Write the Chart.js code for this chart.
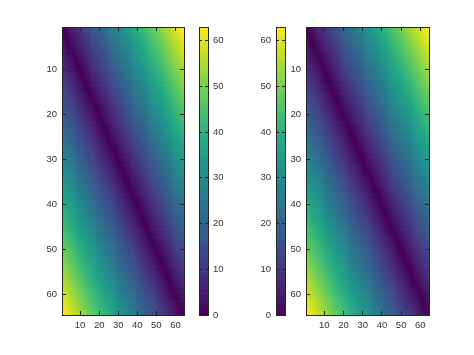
<!DOCTYPE html>
<html>
<head>
<meta charset="utf-8">
<script src="https://cdn.jsdelivr.net/npm/chart.js@4.4.0/dist/chart.umd.min.js"></script>
<style>
html, body { margin: 0; padding: 0; background: #fff; }
#wrap { position: relative; width: 474px; height: 355px; }
#wrap canvas { position: absolute; left: 0; top: 0; }
</style>
</head>
<body>
<div id="wrap">
  <canvas id="heatL" width="474" height="355"></canvas>
  <canvas id="barL" width="474" height="355"></canvas>
  <canvas id="barR" width="474" height="355"></canvas>
  <canvas id="heatR" width="474" height="355"></canvas>
</div>
<script>
// column / row indices of the 64x64 image
var cols = [1,2,3,4,5,6,7,8,9,10,11,12,13,14,15,16,17,18,19,20,21,22,23,24,25,26,27,28,29,30,31,32,33,34,35,36,37,38,39,40,41,42,43,44,45,46,47,48,49,50,51,52,53,54,55,56,57,58,59,60,61,62,63,64];
var rows = [1,2,3,4,5,6,7,8,9,10,11,12,13,14,15,16,17,18,19,20,21,22,23,24,25,26,27,28,29,30,31,32,33,34,35,36,37,38,39,40,41,42,43,44,45,46,47,48,49,50,51,52,53,54,55,56,57,58,59,60,61,62,63,64];

// cell values (same image in both panels)
var dist = [
[0,1,2,3,4,5,6,7,8,9,10,11,12,13,14,15,16,17,18,19,20,21,22,23,24,25,26,27,28,29,30,31,32,33,34,35,36,37,38,39,40,41,42,43,44,45,46,47,48,49,50,51,52,53,54,55,56,57,58,59,60,61,62,63],
[1,0,1,2,3,4,5,6,7,8,9,10,11,12,13,14,15,16,17,18,19,20,21,22,23,24,25,26,27,28,29,30,31,32,33,34,35,36,37,38,39,40,41,42,43,44,45,46,47,48,49,50,51,52,53,54,55,56,57,58,59,60,61,62],
[2,1,0,1,2,3,4,5,6,7,8,9,10,11,12,13,14,15,16,17,18,19,20,21,22,23,24,25,26,27,28,29,30,31,32,33,34,35,36,37,38,39,40,41,42,43,44,45,46,47,48,49,50,51,52,53,54,55,56,57,58,59,60,61],
[3,2,1,0,1,2,3,4,5,6,7,8,9,10,11,12,13,14,15,16,17,18,19,20,21,22,23,24,25,26,27,28,29,30,31,32,33,34,35,36,37,38,39,40,41,42,43,44,45,46,47,48,49,50,51,52,53,54,55,56,57,58,59,60],
[4,3,2,1,0,1,2,3,4,5,6,7,8,9,10,11,12,13,14,15,16,17,18,19,20,21,22,23,24,25,26,27,28,29,30,31,32,33,34,35,36,37,38,39,40,41,42,43,44,45,46,47,48,49,50,51,52,53,54,55,56,57,58,59],
[5,4,3,2,1,0,1,2,3,4,5,6,7,8,9,10,11,12,13,14,15,16,17,18,19,20,21,22,23,24,25,26,27,28,29,30,31,32,33,34,35,36,37,38,39,40,41,42,43,44,45,46,47,48,49,50,51,52,53,54,55,56,57,58],
[6,5,4,3,2,1,0,1,2,3,4,5,6,7,8,9,10,11,12,13,14,15,16,17,18,19,20,21,22,23,24,25,26,27,28,29,30,31,32,33,34,35,36,37,38,39,40,41,42,43,44,45,46,47,48,49,50,51,52,53,54,55,56,57],
[7,6,5,4,3,2,1,0,1,2,3,4,5,6,7,8,9,10,11,12,13,14,15,16,17,18,19,20,21,22,23,24,25,26,27,28,29,30,31,32,33,34,35,36,37,38,39,40,41,42,43,44,45,46,47,48,49,50,51,52,53,54,55,56],
[8,7,6,5,4,3,2,1,0,1,2,3,4,5,6,7,8,9,10,11,12,13,14,15,16,17,18,19,20,21,22,23,24,25,26,27,28,29,30,31,32,33,34,35,36,37,38,39,40,41,42,43,44,45,46,47,48,49,50,51,52,53,54,55],
[9,8,7,6,5,4,3,2,1,0,1,2,3,4,5,6,7,8,9,10,11,12,13,14,15,16,17,18,19,20,21,22,23,24,25,26,27,28,29,30,31,32,33,34,35,36,37,38,39,40,41,42,43,44,45,46,47,48,49,50,51,52,53,54],
[10,9,8,7,6,5,4,3,2,1,0,1,2,3,4,5,6,7,8,9,10,11,12,13,14,15,16,17,18,19,20,21,22,23,24,25,26,27,28,29,30,31,32,33,34,35,36,37,38,39,40,41,42,43,44,45,46,47,48,49,50,51,52,53],
[11,10,9,8,7,6,5,4,3,2,1,0,1,2,3,4,5,6,7,8,9,10,11,12,13,14,15,16,17,18,19,20,21,22,23,24,25,26,27,28,29,30,31,32,33,34,35,36,37,38,39,40,41,42,43,44,45,46,47,48,49,50,51,52],
[12,11,10,9,8,7,6,5,4,3,2,1,0,1,2,3,4,5,6,7,8,9,10,11,12,13,14,15,16,17,18,19,20,21,22,23,24,25,26,27,28,29,30,31,32,33,34,35,36,37,38,39,40,41,42,43,44,45,46,47,48,49,50,51],
[13,12,11,10,9,8,7,6,5,4,3,2,1,0,1,2,3,4,5,6,7,8,9,10,11,12,13,14,15,16,17,18,19,20,21,22,23,24,25,26,27,28,29,30,31,32,33,34,35,36,37,38,39,40,41,42,43,44,45,46,47,48,49,50],
[14,13,12,11,10,9,8,7,6,5,4,3,2,1,0,1,2,3,4,5,6,7,8,9,10,11,12,13,14,15,16,17,18,19,20,21,22,23,24,25,26,27,28,29,30,31,32,33,34,35,36,37,38,39,40,41,42,43,44,45,46,47,48,49],
[15,14,13,12,11,10,9,8,7,6,5,4,3,2,1,0,1,2,3,4,5,6,7,8,9,10,11,12,13,14,15,16,17,18,19,20,21,22,23,24,25,26,27,28,29,30,31,32,33,34,35,36,37,38,39,40,41,42,43,44,45,46,47,48],
[16,15,14,13,12,11,10,9,8,7,6,5,4,3,2,1,0,1,2,3,4,5,6,7,8,9,10,11,12,13,14,15,16,17,18,19,20,21,22,23,24,25,26,27,28,29,30,31,32,33,34,35,36,37,38,39,40,41,42,43,44,45,46,47],
[17,16,15,14,13,12,11,10,9,8,7,6,5,4,3,2,1,0,1,2,3,4,5,6,7,8,9,10,11,12,13,14,15,16,17,18,19,20,21,22,23,24,25,26,27,28,29,30,31,32,33,34,35,36,37,38,39,40,41,42,43,44,45,46],
[18,17,16,15,14,13,12,11,10,9,8,7,6,5,4,3,2,1,0,1,2,3,4,5,6,7,8,9,10,11,12,13,14,15,16,17,18,19,20,21,22,23,24,25,26,27,28,29,30,31,32,33,34,35,36,37,38,39,40,41,42,43,44,45],
[19,18,17,16,15,14,13,12,11,10,9,8,7,6,5,4,3,2,1,0,1,2,3,4,5,6,7,8,9,10,11,12,13,14,15,16,17,18,19,20,21,22,23,24,25,26,27,28,29,30,31,32,33,34,35,36,37,38,39,40,41,42,43,44],
[20,19,18,17,16,15,14,13,12,11,10,9,8,7,6,5,4,3,2,1,0,1,2,3,4,5,6,7,8,9,10,11,12,13,14,15,16,17,18,19,20,21,22,23,24,25,26,27,28,29,30,31,32,33,34,35,36,37,38,39,40,41,42,43],
[21,20,19,18,17,16,15,14,13,12,11,10,9,8,7,6,5,4,3,2,1,0,1,2,3,4,5,6,7,8,9,10,11,12,13,14,15,16,17,18,19,20,21,22,23,24,25,26,27,28,29,30,31,32,33,34,35,36,37,38,39,40,41,42],
[22,21,20,19,18,17,16,15,14,13,12,11,10,9,8,7,6,5,4,3,2,1,0,1,2,3,4,5,6,7,8,9,10,11,12,13,14,15,16,17,18,19,20,21,22,23,24,25,26,27,28,29,30,31,32,33,34,35,36,37,38,39,40,41],
[23,22,21,20,19,18,17,16,15,14,13,12,11,10,9,8,7,6,5,4,3,2,1,0,1,2,3,4,5,6,7,8,9,10,11,12,13,14,15,16,17,18,19,20,21,22,23,24,25,26,27,28,29,30,31,32,33,34,35,36,37,38,39,40],
[24,23,22,21,20,19,18,17,16,15,14,13,12,11,10,9,8,7,6,5,4,3,2,1,0,1,2,3,4,5,6,7,8,9,10,11,12,13,14,15,16,17,18,19,20,21,22,23,24,25,26,27,28,29,30,31,32,33,34,35,36,37,38,39],
[25,24,23,22,21,20,19,18,17,16,15,14,13,12,11,10,9,8,7,6,5,4,3,2,1,0,1,2,3,4,5,6,7,8,9,10,11,12,13,14,15,16,17,18,19,20,21,22,23,24,25,26,27,28,29,30,31,32,33,34,35,36,37,38],
[26,25,24,23,22,21,20,19,18,17,16,15,14,13,12,11,10,9,8,7,6,5,4,3,2,1,0,1,2,3,4,5,6,7,8,9,10,11,12,13,14,15,16,17,18,19,20,21,22,23,24,25,26,27,28,29,30,31,32,33,34,35,36,37],
[27,26,25,24,23,22,21,20,19,18,17,16,15,14,13,12,11,10,9,8,7,6,5,4,3,2,1,0,1,2,3,4,5,6,7,8,9,10,11,12,13,14,15,16,17,18,19,20,21,22,23,24,25,26,27,28,29,30,31,32,33,34,35,36],
[28,27,26,25,24,23,22,21,20,19,18,17,16,15,14,13,12,11,10,9,8,7,6,5,4,3,2,1,0,1,2,3,4,5,6,7,8,9,10,11,12,13,14,15,16,17,18,19,20,21,22,23,24,25,26,27,28,29,30,31,32,33,34,35],
[29,28,27,26,25,24,23,22,21,20,19,18,17,16,15,14,13,12,11,10,9,8,7,6,5,4,3,2,1,0,1,2,3,4,5,6,7,8,9,10,11,12,13,14,15,16,17,18,19,20,21,22,23,24,25,26,27,28,29,30,31,32,33,34],
[30,29,28,27,26,25,24,23,22,21,20,19,18,17,16,15,14,13,12,11,10,9,8,7,6,5,4,3,2,1,0,1,2,3,4,5,6,7,8,9,10,11,12,13,14,15,16,17,18,19,20,21,22,23,24,25,26,27,28,29,30,31,32,33],
[31,30,29,28,27,26,25,24,23,22,21,20,19,18,17,16,15,14,13,12,11,10,9,8,7,6,5,4,3,2,1,0,1,2,3,4,5,6,7,8,9,10,11,12,13,14,15,16,17,18,19,20,21,22,23,24,25,26,27,28,29,30,31,32],
[32,31,30,29,28,27,26,25,24,23,22,21,20,19,18,17,16,15,14,13,12,11,10,9,8,7,6,5,4,3,2,1,0,1,2,3,4,5,6,7,8,9,10,11,12,13,14,15,16,17,18,19,20,21,22,23,24,25,26,27,28,29,30,31],
[33,32,31,30,29,28,27,26,25,24,23,22,21,20,19,18,17,16,15,14,13,12,11,10,9,8,7,6,5,4,3,2,1,0,1,2,3,4,5,6,7,8,9,10,11,12,13,14,15,16,17,18,19,20,21,22,23,24,25,26,27,28,29,30],
[34,33,32,31,30,29,28,27,26,25,24,23,22,21,20,19,18,17,16,15,14,13,12,11,10,9,8,7,6,5,4,3,2,1,0,1,2,3,4,5,6,7,8,9,10,11,12,13,14,15,16,17,18,19,20,21,22,23,24,25,26,27,28,29],
[35,34,33,32,31,30,29,28,27,26,25,24,23,22,21,20,19,18,17,16,15,14,13,12,11,10,9,8,7,6,5,4,3,2,1,0,1,2,3,4,5,6,7,8,9,10,11,12,13,14,15,16,17,18,19,20,21,22,23,24,25,26,27,28],
[36,35,34,33,32,31,30,29,28,27,26,25,24,23,22,21,20,19,18,17,16,15,14,13,12,11,10,9,8,7,6,5,4,3,2,1,0,1,2,3,4,5,6,7,8,9,10,11,12,13,14,15,16,17,18,19,20,21,22,23,24,25,26,27],
[37,36,35,34,33,32,31,30,29,28,27,26,25,24,23,22,21,20,19,18,17,16,15,14,13,12,11,10,9,8,7,6,5,4,3,2,1,0,1,2,3,4,5,6,7,8,9,10,11,12,13,14,15,16,17,18,19,20,21,22,23,24,25,26],
[38,37,36,35,34,33,32,31,30,29,28,27,26,25,24,23,22,21,20,19,18,17,16,15,14,13,12,11,10,9,8,7,6,5,4,3,2,1,0,1,2,3,4,5,6,7,8,9,10,11,12,13,14,15,16,17,18,19,20,21,22,23,24,25],
[39,38,37,36,35,34,33,32,31,30,29,28,27,26,25,24,23,22,21,20,19,18,17,16,15,14,13,12,11,10,9,8,7,6,5,4,3,2,1,0,1,2,3,4,5,6,7,8,9,10,11,12,13,14,15,16,17,18,19,20,21,22,23,24],
[40,39,38,37,36,35,34,33,32,31,30,29,28,27,26,25,24,23,22,21,20,19,18,17,16,15,14,13,12,11,10,9,8,7,6,5,4,3,2,1,0,1,2,3,4,5,6,7,8,9,10,11,12,13,14,15,16,17,18,19,20,21,22,23],
[41,40,39,38,37,36,35,34,33,32,31,30,29,28,27,26,25,24,23,22,21,20,19,18,17,16,15,14,13,12,11,10,9,8,7,6,5,4,3,2,1,0,1,2,3,4,5,6,7,8,9,10,11,12,13,14,15,16,17,18,19,20,21,22],
[42,41,40,39,38,37,36,35,34,33,32,31,30,29,28,27,26,25,24,23,22,21,20,19,18,17,16,15,14,13,12,11,10,9,8,7,6,5,4,3,2,1,0,1,2,3,4,5,6,7,8,9,10,11,12,13,14,15,16,17,18,19,20,21],
[43,42,41,40,39,38,37,36,35,34,33,32,31,30,29,28,27,26,25,24,23,22,21,20,19,18,17,16,15,14,13,12,11,10,9,8,7,6,5,4,3,2,1,0,1,2,3,4,5,6,7,8,9,10,11,12,13,14,15,16,17,18,19,20],
[44,43,42,41,40,39,38,37,36,35,34,33,32,31,30,29,28,27,26,25,24,23,22,21,20,19,18,17,16,15,14,13,12,11,10,9,8,7,6,5,4,3,2,1,0,1,2,3,4,5,6,7,8,9,10,11,12,13,14,15,16,17,18,19],
[45,44,43,42,41,40,39,38,37,36,35,34,33,32,31,30,29,28,27,26,25,24,23,22,21,20,19,18,17,16,15,14,13,12,11,10,9,8,7,6,5,4,3,2,1,0,1,2,3,4,5,6,7,8,9,10,11,12,13,14,15,16,17,18],
[46,45,44,43,42,41,40,39,38,37,36,35,34,33,32,31,30,29,28,27,26,25,24,23,22,21,20,19,18,17,16,15,14,13,12,11,10,9,8,7,6,5,4,3,2,1,0,1,2,3,4,5,6,7,8,9,10,11,12,13,14,15,16,17],
[47,46,45,44,43,42,41,40,39,38,37,36,35,34,33,32,31,30,29,28,27,26,25,24,23,22,21,20,19,18,17,16,15,14,13,12,11,10,9,8,7,6,5,4,3,2,1,0,1,2,3,4,5,6,7,8,9,10,11,12,13,14,15,16],
[48,47,46,45,44,43,42,41,40,39,38,37,36,35,34,33,32,31,30,29,28,27,26,25,24,23,22,21,20,19,18,17,16,15,14,13,12,11,10,9,8,7,6,5,4,3,2,1,0,1,2,3,4,5,6,7,8,9,10,11,12,13,14,15],
[49,48,47,46,45,44,43,42,41,40,39,38,37,36,35,34,33,32,31,30,29,28,27,26,25,24,23,22,21,20,19,18,17,16,15,14,13,12,11,10,9,8,7,6,5,4,3,2,1,0,1,2,3,4,5,6,7,8,9,10,11,12,13,14],
[50,49,48,47,46,45,44,43,42,41,40,39,38,37,36,35,34,33,32,31,30,29,28,27,26,25,24,23,22,21,20,19,18,17,16,15,14,13,12,11,10,9,8,7,6,5,4,3,2,1,0,1,2,3,4,5,6,7,8,9,10,11,12,13],
[51,50,49,48,47,46,45,44,43,42,41,40,39,38,37,36,35,34,33,32,31,30,29,28,27,26,25,24,23,22,21,20,19,18,17,16,15,14,13,12,11,10,9,8,7,6,5,4,3,2,1,0,1,2,3,4,5,6,7,8,9,10,11,12],
[52,51,50,49,48,47,46,45,44,43,42,41,40,39,38,37,36,35,34,33,32,31,30,29,28,27,26,25,24,23,22,21,20,19,18,17,16,15,14,13,12,11,10,9,8,7,6,5,4,3,2,1,0,1,2,3,4,5,6,7,8,9,10,11],
[53,52,51,50,49,48,47,46,45,44,43,42,41,40,39,38,37,36,35,34,33,32,31,30,29,28,27,26,25,24,23,22,21,20,19,18,17,16,15,14,13,12,11,10,9,8,7,6,5,4,3,2,1,0,1,2,3,4,5,6,7,8,9,10],
[54,53,52,51,50,49,48,47,46,45,44,43,42,41,40,39,38,37,36,35,34,33,32,31,30,29,28,27,26,25,24,23,22,21,20,19,18,17,16,15,14,13,12,11,10,9,8,7,6,5,4,3,2,1,0,1,2,3,4,5,6,7,8,9],
[55,54,53,52,51,50,49,48,47,46,45,44,43,42,41,40,39,38,37,36,35,34,33,32,31,30,29,28,27,26,25,24,23,22,21,20,19,18,17,16,15,14,13,12,11,10,9,8,7,6,5,4,3,2,1,0,1,2,3,4,5,6,7,8],
[56,55,54,53,52,51,50,49,48,47,46,45,44,43,42,41,40,39,38,37,36,35,34,33,32,31,30,29,28,27,26,25,24,23,22,21,20,19,18,17,16,15,14,13,12,11,10,9,8,7,6,5,4,3,2,1,0,1,2,3,4,5,6,7],
[57,56,55,54,53,52,51,50,49,48,47,46,45,44,43,42,41,40,39,38,37,36,35,34,33,32,31,30,29,28,27,26,25,24,23,22,21,20,19,18,17,16,15,14,13,12,11,10,9,8,7,6,5,4,3,2,1,0,1,2,3,4,5,6],
[58,57,56,55,54,53,52,51,50,49,48,47,46,45,44,43,42,41,40,39,38,37,36,35,34,33,32,31,30,29,28,27,26,25,24,23,22,21,20,19,18,17,16,15,14,13,12,11,10,9,8,7,6,5,4,3,2,1,0,1,2,3,4,5],
[59,58,57,56,55,54,53,52,51,50,49,48,47,46,45,44,43,42,41,40,39,38,37,36,35,34,33,32,31,30,29,28,27,26,25,24,23,22,21,20,19,18,17,16,15,14,13,12,11,10,9,8,7,6,5,4,3,2,1,0,1,2,3,4],
[60,59,58,57,56,55,54,53,52,51,50,49,48,47,46,45,44,43,42,41,40,39,38,37,36,35,34,33,32,31,30,29,28,27,26,25,24,23,22,21,20,19,18,17,16,15,14,13,12,11,10,9,8,7,6,5,4,3,2,1,0,1,2,3],
[61,60,59,58,57,56,55,54,53,52,51,50,49,48,47,46,45,44,43,42,41,40,39,38,37,36,35,34,33,32,31,30,29,28,27,26,25,24,23,22,21,20,19,18,17,16,15,14,13,12,11,10,9,8,7,6,5,4,3,2,1,0,1,2],
[62,61,60,59,58,57,56,55,54,53,52,51,50,49,48,47,46,45,44,43,42,41,40,39,38,37,36,35,34,33,32,31,30,29,28,27,26,25,24,23,22,21,20,19,18,17,16,15,14,13,12,11,10,9,8,7,6,5,4,3,2,1,0,1],
[63,62,61,60,59,58,57,56,55,54,53,52,51,50,49,48,47,46,45,44,43,42,41,40,39,38,37,36,35,34,33,32,31,30,29,28,27,26,25,24,23,22,21,20,19,18,17,16,15,14,13,12,11,10,9,8,7,6,5,4,3,2,1,0]
];

// colorbar levels and tick labels
var levels = [0,1,2,3,4,5,6,7,8,9,10,11,12,13,14,15,16,17,18,19,20,21,22,23,24,25,26,27,28,29,30,31,32,33,34,35,36,37,38,39,40,41,42,43,44,45,46,47,48,49,50,51,52,53,54,55,56,57,58,59,60,61,62,63];
var xTicks = [10, 20, 30, 40, 50, 60];
var yTicks = [10, 20, 30, 40, 50, 60];
var cbTicks = [0, 10, 20, 30, 40, 50, 60];

// viridis stops
var viridis = ['#440154','#482475','#414487','#355f8d','#2a788e','#21918c','#22a884','#44bf70','#7ad151','#bddf26','#fde725'];
var ink = '#262626';
var tickFont = { family: 'Liberation Sans, Arial, sans-serif', size: 9.5 };

function hex(c) {
  return [parseInt(c.substr(1, 2), 16), parseInt(c.substr(3, 2), 16), parseInt(c.substr(5, 2), 16)];
}
function cmap(v) {
  var t = v / 63 * (viridis.length - 1);
  var i = Math.min(Math.floor(t), viridis.length - 2);
  var f = t - i;
  var a = hex(viridis[i]), b = hex(viridis[i + 1]);
  var c = a.map(function(x, k) { return Math.round(x + (b[k] - x) * f); });
  return 'rgb(' + c.join(',') + ')';
}

// axis with inward ticks, octave style
function axis(pos, min, max, ticks, reverse, labels, size, tl) {
  return {
    type: 'linear', position: pos, min: min, max: max, reverse: reverse, offset: false,
    afterBuildTicks: function(s) { s.ticks = ticks.map(function(v) { return { value: v }; }); },
    afterFit: function(s) { if (s.isHorizontal()) s.height = size; else s.width = size; },
    grid: { display: true, drawOnChartArea: false, drawTicks: true, tickLength: -tl, color: ink, offset: false, z: 1 },
    border: { display: true, color: ink, width: 1, z: 1 },
    ticks: { display: labels, padding: 5 + tl, color: '#333', font: tickFont }
  };
}
function frame(pos) {
  return {
    type: 'linear', position: pos, min: 0, max: 1, offset: false,
    afterFit: function(s) { s.height = 0; },
    grid: { display: false },
    border: { display: true, color: ink, width: 1, z: 1 },
    ticks: { display: false }
  };
}

function heatmap(id, left, right) {
  var datasets = rows.map(function(r, i) {
    return {
      data: cols.map(function(c) { return { x: c, y: [r - 0.5, r + 0.5] }; }),
      backgroundColor: dist[i].map(cmap),
      borderWidth: 0, barPercentage: 1, categoryPercentage: 1, grouped: false,
      xAxisID: 'x', yAxisID: 'y'
    };
  });
  new Chart(document.getElementById(id), {
    type: 'bar',
    data: { datasets: datasets },
    options: {
      responsive: false, animation: false, events: [],
      layout: { autoPadding: false, padding: { left: left - 30, right: 474 - right, top: 27, bottom: 20 } },
      plugins: { legend: { display: false }, tooltip: { enabled: false } },
      scales: {
        x: axis('bottom', 0.5, 64.5, xTicks, false, true, 20, 4),
        x2: axis('top', 0.5, 64.5, xTicks, false, false, 0, 4),
        y: axis('left', 0.5, 64.5, yTicks, true, true, 30, 4),
        y2: axis('right', 0.5, 64.5, yTicks, true, false, 0, 4)
      }
    }
  });
}

function colorbar(id, left, right, labelSide) {
  var other = labelSide === 'right' ? 'left' : 'right';
  var padL = labelSide === 'left' ? left - 30 : left;
  var padR = labelSide === 'right' ? 474 - right - 30 : 474 - right;
  new Chart(document.getElementById(id), {
    type: 'bar',
    data: { datasets: [{
      data: levels.map(function(v) { return { y: v, x: [0, 1] }; }),
      backgroundColor: levels.map(cmap),
      borderWidth: 0, barPercentage: 1, categoryPercentage: 1,
      xAxisID: 'x', yAxisID: 'y'
    }] },
    options: {
      indexAxis: 'y', responsive: false, animation: false, events: [],
      layout: { autoPadding: false, padding: { left: padL, right: padR, top: 27, bottom: 40 } },
      plugins: { legend: { display: false }, tooltip: { enabled: false } },
      scales: {
        y: axis(labelSide, 0, 63, cbTicks, false, true, 30, 3),
        y2: axis(other, 0, 63, cbTicks, false, false, 0, 3),
        x: frame('bottom'),
        x2: frame('top')
      }
    }
  });
}

heatmap('heatL', 62, 184);
colorbar('barL', 199, 208, 'right');
colorbar('barR', 276, 285, 'left');
heatmap('heatR', 306, 429);
</script>
</body>
</html>
